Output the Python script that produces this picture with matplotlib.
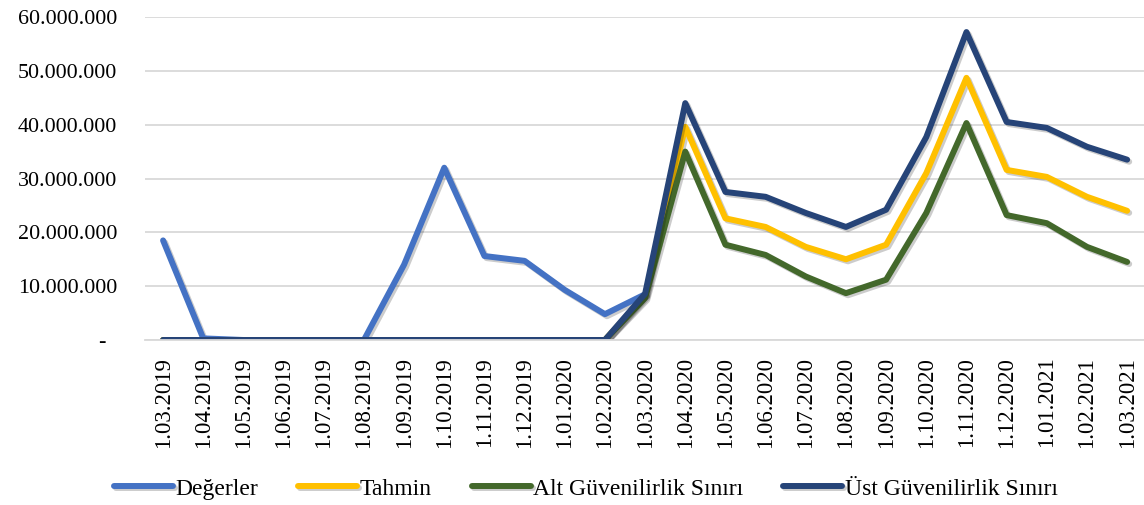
import numpy as np
import matplotlib
matplotlib.use("Agg")
import matplotlib.pyplot as plt
import matplotlib.patheffects as pe
from matplotlib.ticker import FuncFormatter

plt.rcParams['font.family'] = ['Liberation Serif', 'DejaVu Serif']

dates = ["1.03.2019", "1.04.2019", "1.05.2019", "1.06.2019", "1.07.2019",
         "1.08.2019", "1.09.2019", "1.10.2019", "1.11.2019", "1.12.2019",
         "1.01.2020", "1.02.2020", "1.03.2020", "1.04.2020", "1.05.2020",
         "1.06.2020", "1.07.2020", "1.08.2020", "1.09.2020", "1.10.2020",
         "1.11.2020", "1.12.2020", "1.01.2021", "1.02.2021", "1.03.2021"]

# values (millions)
degerler = [18.5, 0.3, 0, 0, 0, 0, 14.0, 32.0, 15.6, 14.7, 9.3, 4.8, 8.5]
tahmin = [0, 0, 0, 0, 0, 0, 0, 0, 0, 0, 0, 0, 8.2,
          39.6, 22.6, 21.0, 17.3, 15.0, 17.7, 31.0, 48.7, 31.6, 30.3, 26.6, 24.0]
alt_sinir = [0, 0, 0, 0, 0, 0, 0, 0, 0, 0, 0, 0, 7.8,
             35.0, 17.7, 15.8, 11.8, 8.7, 11.2, 23.6, 40.3, 23.2, 21.7, 17.3, 14.5]
ust_sinir = [0, 0, 0, 0, 0, 0, 0, 0, 0, 0, 0, 0, 8.6,
             44.0, 27.5, 26.6, 23.6, 21.0, 24.2, 37.7, 57.2, 40.5, 39.4, 35.9, 33.5]

series = [
    ("Değerler", degerler, "#4472C4"),
    ("Tahmin", tahmin, "#FFC000"),
    ("Alt Güvenilirlik Sınırı", alt_sinir, "#43682B"),
    ("Üst Güvenilirlik Sınırı", ust_sinir, "#264478"),
]

fig = plt.figure(figsize=(11.44, 5.05), dpi=100)
ax = fig.add_axes([145 / 1144, 1 - 340 / 505, 1 - 145 / 1144, (340 - 17) / 505])

shadow = [pe.SimpleLineShadow(offset=(1.5, -1.5), alpha=0.2, shadow_color="black"), pe.Normal()]
for name, vals, col in series:
    x = np.arange(len(vals))
    ax.plot(x, np.array(vals) * 1e6, color=col, lw=4.3, label=name,
            solid_capstyle="round", solid_joinstyle="round", path_effects=shadow)

ax.set_xlim(-0.45, 24.42)
ax.set_ylim(0, 60e6)
ax.set_yticks(np.arange(0, 60e6 + 1, 10e6))


def fmt(v, pos):
    if v == 0:
        return "-  "
    return f"{int(v):,}".replace(",", ".")


ax.yaxis.set_major_formatter(FuncFormatter(fmt))
ax.set_xticks(np.arange(len(dates)))
ax.set_xticklabels(dates, rotation=90, va="top")
ax.tick_params(axis="y", length=0, pad=20, labelsize=15.8)
ax.tick_params(axis="x", length=0, pad=12, labelsize=16.5)
ax.grid(axis="y", color="#d9d9d9", lw=1.3)
ax.set_axisbelow(True)
for s in ["top", "right", "left"]:
    ax.spines[s].set_visible(False)
ax.spines["bottom"].set_color("#d9d9d9")
ax.spines["bottom"].set_linewidth(1.3)

fig.legend(loc="center", bbox_to_anchor=(0.512, 0.032), ncol=4, frameon=False,
           fontsize=17, handlelength=2.5, handletextpad=0.1, columnspacing=1.7)

fig.savefig("out.png", dpi=100)
